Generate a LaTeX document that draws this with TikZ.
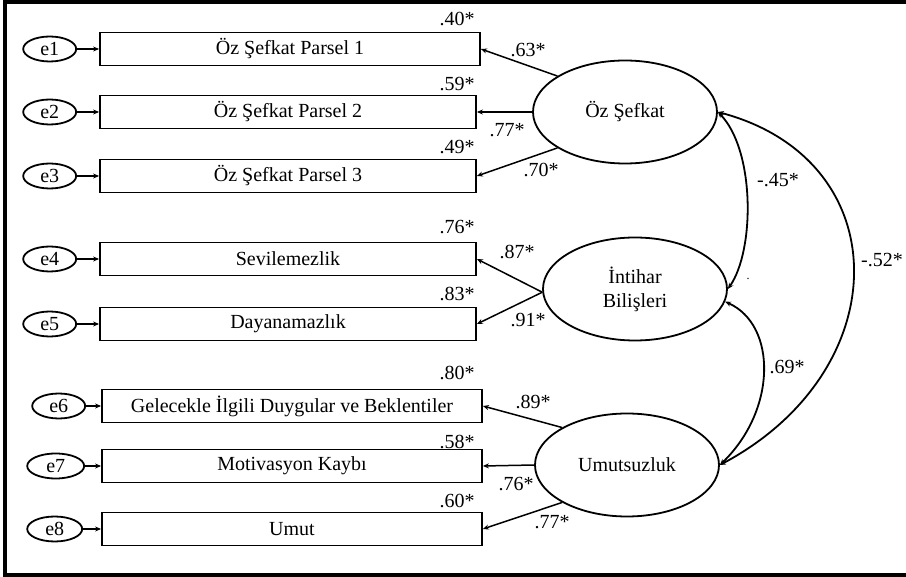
\documentclass[tikz,border=0pt]{standalone}
\usepackage{fontspec}
\setmainfont{Liberation Serif}
\usetikzlibrary{arrows.meta,positioning,shapes.geometric}

\begin{document}
\begin{tikzpicture}[
    x=1pt, y=-1pt,
    every node/.style={font=\fontsize{20}{24}\selectfont},
    indicator/.style={rectangle, draw, line width=1.8pt, minimum width=376pt, minimum height=33pt, inner sep=0pt},
    latent/.style={ellipse, draw, line width=1.8pt, minimum width=184pt, minimum height=103pt, align=center, inner sep=0pt},
    err/.style={ellipse, draw, line width=1.8pt, minimum width=53pt, minimum height=25pt, inner sep=0pt},
    coef/.style={inner sep=0pt},
    arrow/.style={-{Stealth[length=6pt, width=5pt]}, line width=1.5pt},
    cov/.style={{Stealth[length=6pt, width=5pt]}-{Stealth[length=6pt, width=5pt]}, line width=1.8pt}
]
    \useasboundingbox (0,0) rectangle (906,577);
    \draw[line width=4pt] (906,2) -- (5,2) -- (5,575) -- (906,575);

    \node[latent] (oz) at (625,112) {Öz Şefkat};
    \node[latent] (intihar) at (635,289) {İntihar\\Bilişleri};
    \node[latent] (umut) at (627,465) {Umutsuzluk};

    \node[indicator, minimum width=380pt] (p1) at (290,49) {Öz Şefkat Parsel 1};
    \node[indicator] (p2) at (288,112) {Öz Şefkat Parsel 2};
    \node[indicator] (p3) at (288,176) {Öz Şefkat Parsel 3};
    \node[indicator] (sev) at (288,259) {Sevilemezlik};
    \node[indicator] (day) at (288,324) {Dayanamazlık};
    \node[indicator, minimum width=380pt] (gel) at (292,406) {Gelecekle İlgili Duygular ve Beklentiler};
    \node[indicator, minimum width=380pt] (mot) at (292,466) {Motivasyon Kaybı};
    \node[indicator, minimum width=380pt] (umt) at (292,529) {Umut};

    \node[err, left=22pt of p1] (e1) {e1};
    \node[err, left=22pt of p2] (e2) {e2};
    \node[err, left=22pt of p3] (e3) {e3};
    \node[err, left=22pt of sev] (e4) {e4};
    \node[err, left=22pt of day] (e5) {e5};
    \node[err, left=15pt of gel] (e6) {e6};
    \node[err, left=16pt of mot, minimum width=57pt] (e7) {e7};
    \node[err, left=18pt of umt, minimum width=55pt] (e8) {e8};

    \foreach \e/\b in {e1/p1, e2/p2, e3/p3, e4/sev, e5/day, e6/gel, e7/mot, e8/umt}
        \draw[arrow] (\e) -- (\b);

    \draw[arrow] (oz.152) -- (p1.east);
    \draw[arrow] (oz.west) -- (p2.east);
    \draw[arrow] (oz.208) -- (p3.east);
    \draw[arrow] (intihar.182) -- (sev.east);
    \draw[arrow] (intihar.182) -- (day.east);
    \draw[arrow] (umut.150) -- (gel.east);
    \draw[arrow] (umut.west) -- (mot.east);
    \draw[arrow] (umut.210) -- (umt.east);

    \draw[cov] (oz.east) .. controls (755,150) and (755,250) .. (intihar.east);
    \draw[cov] (oz.east) .. controls (898,160) and (898,370) .. (umut.east);
    \draw[cov] (intihar.-8) .. controls (777,325) and (777,410) .. (umut.east);

    \node[coef] (r1) at (457,19) {.40*};
    \node[coef] (r2) at (457,84) {.59*};
    \node[coef] (r3) at (457,147) {.49*};
    \node[coef] (r4) at (457,227) {.76*};
    \node[coef] (r5) at (457,294) {.83*};
    \node[coef] (r6) at (457,373) {.80*};
    \node[coef] (r7) at (457,442) {.58*};
    \node[coef] (r8) at (457,501) {.60*};

    \node[coef] (l1) at (528,50) {.63*};
    \node[coef] (l2) at (507,130) {.77*};
    \node[coef] (l3) at (541,170) {.70*};
    \node[coef] (l4) at (517,252) {.87*};
    \node[coef] (l5) at (528,320) {.91*};
    \node[coef] (l6) at (533,402) {.89*};
    \node[coef] (l7) at (516,484) {.76*};
    \node[coef] (l8) at (552,522) {.77*};

    \node[coef] (c1) at (778,180) {-.45*};
    \node[coef] (c2) at (882,260) {-.52*};
    \node[coef] (c3) at (787,367) {.69*};
    \node[coef, font=\fontsize{12}{12}\selectfont] (dot) at (748,279) {.};
\end{tikzpicture}
\end{document}
